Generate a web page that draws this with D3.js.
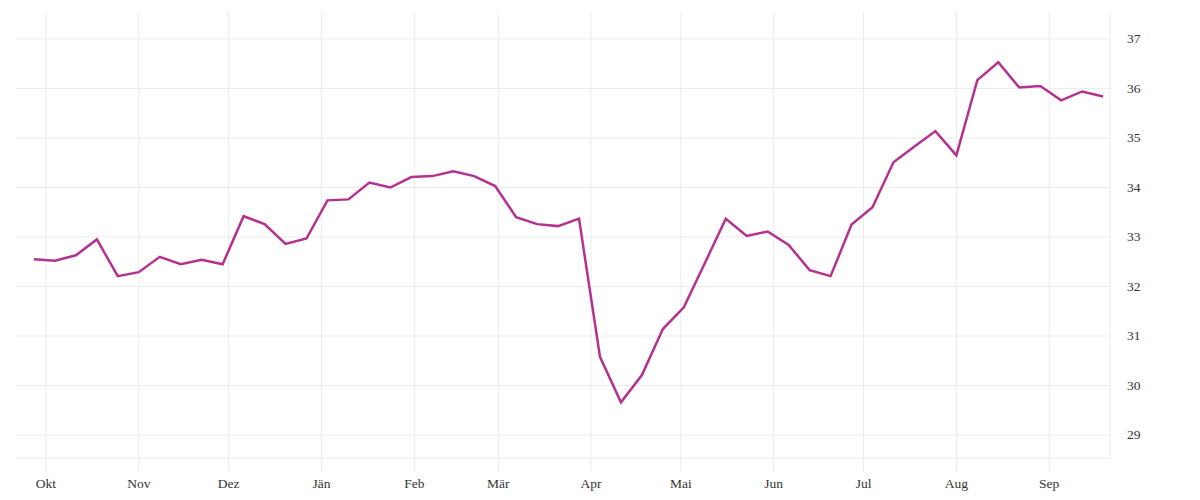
<!DOCTYPE html>
<html><head><meta charset="utf-8">
<script src="https://cdn.jsdelivr.net/npm/d3@7"></script>
<style>
body{margin:0;background:#fff;}
text{font-family:"Liberation Serif",serif;font-size:13.5px;fill:#333;}
</style></head>
<body><svg id="c" width="1200" height="500"></svg>
<script>
const startDate = "2018-09-27";
const values = [32.55,32.52,32.63,32.95,32.21,32.29,32.60,32.45,32.54,32.45,33.42,33.26,32.86,
  32.97,33.74,33.76,34.10,34.00,34.21,34.23,34.33,34.23,34.03,33.40,33.26,33.22,33.37,
  30.58,29.66,30.21,31.14,31.58,32.47,33.37,33.02,33.11,32.84,32.33,32.21,33.25,
  33.60,34.51,34.83,35.14,34.65,36.17,36.53,36.02,36.05,35.76,35.94,35.84];
const monthLabels = ["Okt","Nov","Dez","Jän","Feb","Mär","Apr","Mai","Jun","Jul","Aug","Sep"];
const yTicks = [29,30,31,32,33,34,35,36,37];

(function(){
const parse = d3.utcParse("%Y-%m-%d");
const d0 = parse(startDate);
const data = values.map((v,i)=>({date:d3.utcDay.offset(d0,7*i), value:v}));

const pl=16, pr=1110, pt=12, pb=458;
const lastDate = data[data.length-1].date;
const x = d3.scaleUtc()
  .domain([new Date(+d0 - 6*864e5), new Date(+lastDate + 2.3*864e5)])
  .range([pl,pr]);
const y = d3.scaleLinear().domain([29,37]).range([435,39]);

const svg = d3.select("#c");
const monthTicks = d3.utcMonth.range(d3.utcMonth.ceil(x.domain()[0]), x.domain()[1]);

svg.append("g").selectAll("line").data(monthTicks).join("line")
  .attr("x1",d=>x(d)).attr("x2",d=>x(d)).attr("y1",pt).attr("y2",472)
  .attr("stroke","#ececec").attr("stroke-width",1);
svg.append("g").selectAll("line").data(yTicks).join("line")
  .attr("x1",pl).attr("x2",pr).attr("y1",d=>y(d)).attr("y2",d=>y(d))
  .attr("stroke","#ececec").attr("stroke-width",1);
svg.append("line").attr("x1",pl).attr("x2",pr).attr("y1",pb).attr("y2",pb)
  .attr("stroke","#ececec");
svg.append("line").attr("x1",pr).attr("x2",pr).attr("y1",pt).attr("y2",pb+1)
  .attr("stroke","#ececec");

svg.append("g").selectAll("text").data(monthTicks).join("text")
  .attr("x",d=>x(d)).attr("y",488).attr("text-anchor","middle")
  .text(d=>monthLabels[(d.getUTCMonth()+3)%12]);
svg.append("g").selectAll("text").data(yTicks).join("text")
  .attr("x",1127).attr("y",d=>y(d)+4).text(d=>d);

svg.append("path").datum(data)
  .attr("fill","none").attr("stroke","#b5318f").attr("stroke-width",2.5)
  .attr("d",d3.line().x(d=>x(d.date)).y(d=>y(d.value)));
})();
</script></body></html>
